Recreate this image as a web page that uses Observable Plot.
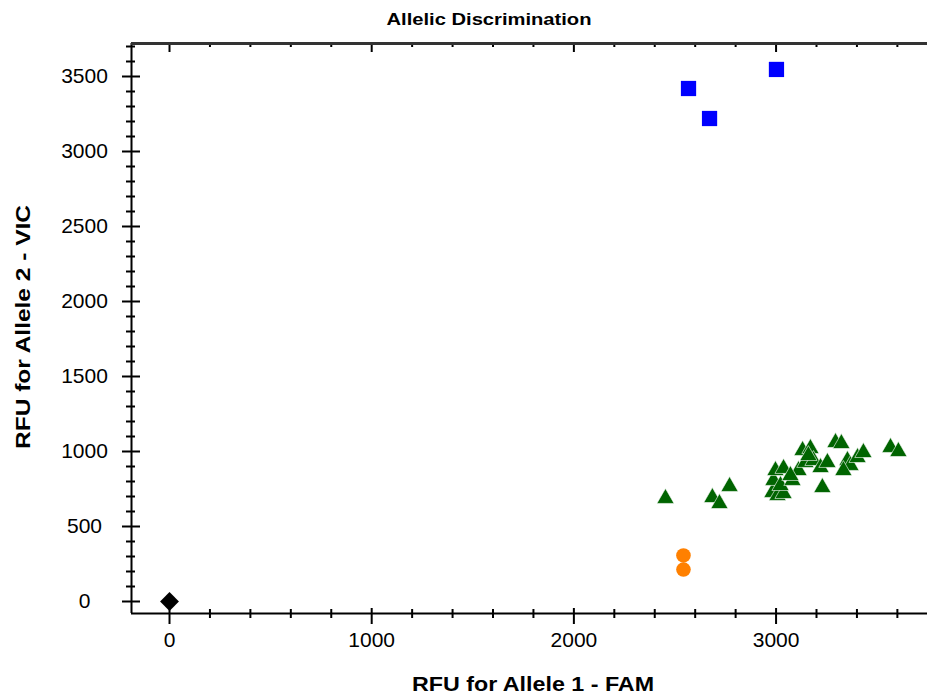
<!DOCTYPE html>
<html>
<head>
<meta charset="utf-8">
<script src="https://cdn.jsdelivr.net/npm/d3@7"></script>
<script src="https://cdn.jsdelivr.net/npm/@observablehq/plot@0.6"></script>
<style>
  html, body { margin: 0; padding: 0; background: #fff; }
  #chart { width: 927px; height: 695px; overflow: hidden; }
  svg { display: block; }
</style>
</head>
<body>
<div id="chart"></div>
<script>
// ---- Data ----
const titleText = "Allelic Discrimination";
const xLabel = "RFU for Allele 1 - FAM";
const yLabel = "RFU for Allele 2 - VIC";

// Allele 2 homozygotes (blue squares)
const blueX = [2567, 2671, 3002];
const blueY = [3420, 3220, 3547];

// Undetermined (orange circles)
const orangeX = [2542, 2542];
const orangeY = [307, 213];

// Allele 1 homozygotes (green triangles)
const greenX = [2453, 2685, 2720, 2770, 2982, 3007, 3037, 2987, 3022, 2997, 3037, 3081, 3111, 3131, 3170, 3145, 3185, 3220, 3254, 3229, 3294, 3323, 3353, 3368, 3333, 3403, 3432, 3566, 3605, 3160, 3071];
const greenY = [687, 693, 653, 767, 727, 707, 720, 807, 773, 873, 887, 807, 873, 1007, 1020, 927, 940, 893, 927, 760, 1060, 1053, 940, 907, 873, 960, 993, 1027, 1000, 973, 840];

// No template control (black diamond)
const ntcX = [0];
const ntcY = [0];

// Axis ticks
const xTicks = [0, 1000, 2000, 3000];
const yTicks = [0, 500, 1000, 1500, 2000, 2500, 3000, 3500];
const xMinorStep = 200;
const yMinorStep = 100;

// ---- Layout ----
const width = 927, height = 695;
const marginLeft = 131, marginTop = 43, marginBottom = 82, marginRight = 0;
const xDomain = [-188, 3749];
const yDomain = [-80, 3720];
const fw = width - marginLeft - marginRight;
const fh = height - marginTop - marginBottom;

const xMinor = d3.range(0, xDomain[1], xMinorStep).filter(v => !xTicks.includes(v));
const yMinor = d3.range(0, yDomain[1], yMinorStep).filter(v => !yTicks.includes(v));

const toRows = (xs, ys) => xs.map((x, i) => ({x, y: ys[i]}));
const blue = toRows(blueX, blueY);
const orange = toRows(orangeX, orangeY);
const green = toRows(greenX, greenY);
const ntc = toRows(ntcX, ntcY);

const font = "'Liberation Sans', Arial, sans-serif";

const plot = Plot.plot({
  width, height, marginLeft, marginTop, marginBottom, marginRight,
  style: {fontFamily: font, background: "#fff", overflow: "visible"},
  x: {domain: xDomain, label: null},
  y: {domain: yDomain, label: null},
  marks: [
    // tick labels
    Plot.axisX({ticks: xTicks, tickSize: 0, tickPadding: 19, fontSize: 21, label: null, tickFormat: d => String(d), fill: "#000"}),
    Plot.axisY({ticks: yTicks, tickSize: 0, tickPadding: 47, textAnchor: "middle", fontSize: 21, label: null, tickFormat: d => String(d), fill: "#000"}),
    // left axis ticks (crossing the axis line)
    Plot.tickY(yTicks, {y: d => d, insetLeft: -9, insetRight: fw - 9, stroke: "#000", strokeWidth: 2}),
    Plot.tickY(yMinor, {y: d => d, insetLeft: -5, insetRight: fw - 4, stroke: "#000", strokeWidth: 2}),
    // bottom axis ticks (crossing)
    Plot.tickX(xTicks, {x: d => d, insetTop: fh - 5, insetBottom: -11, stroke: "#000", strokeWidth: 2}),
    Plot.tickX(xMinor, {x: d => d, insetTop: fh - 4, insetBottom: -5, stroke: "#000", strokeWidth: 2}),
    // top axis ticks (inward)
    Plot.tickX(xTicks, {x: d => d, insetTop: 0, insetBottom: fh - 9, stroke: "#000", strokeWidth: 2}),
    Plot.tickX(xMinor, {x: d => d, insetTop: 0, insetBottom: fh - 4, stroke: "#000", strokeWidth: 2}),
    // frame lines (left, bottom, top)
    Plot.ruleX([xDomain[0]], {stroke: "#000", strokeWidth: 2}),
    Plot.ruleY([yDomain[0]], {stroke: "#000", strokeWidth: 2}),
    Plot.ruleY([yDomain[1]], {stroke: "#333", strokeWidth: 3}),
    // data
    Plot.dot(green, {x: "x", y: "y", symbol: "triangle", r: 6.4, fill: "#006400", stroke: "#fff", strokeWidth: 0.6}),
    Plot.dot(orange, {x: "x", y: "y", symbol: "circle", r: 7.3, fill: "#ff8000"}),
    Plot.dot(blue, {x: "x", y: "y", symbol: "square", r: 8.6, fill: "#0000ff"}),
    Plot.dot(ntc, {x: "x", y: "y", symbol: d3.symbolDiamond2, r: 8.5, fill: "#000"})
  ]
});

const svg = d3.select(plot);
svg.append("text")
  .attr("x", 489).attr("y", 25)
  .attr("text-anchor", "middle")
  .attr("font-family", font)
  .attr("font-weight", "bold")
  .attr("font-size", 17)
  .attr("textLength", 205)
  .attr("lengthAdjust", "spacingAndGlyphs")
  .text(titleText);
svg.append("text")
  .attr("x", 533).attr("y", 691)
  .attr("text-anchor", "middle")
  .attr("font-family", font)
  .attr("font-weight", "bold")
  .attr("font-size", 21)
  .attr("textLength", 242)
  .attr("lengthAdjust", "spacingAndGlyphs")
  .text(xLabel);
svg.append("text")
  .attr("transform", `translate(30, 327) rotate(-90)`)
  .attr("text-anchor", "middle")
  .attr("font-family", font)
  .attr("font-weight", "bold")
  .attr("font-size", 21)
  .attr("textLength", 244)
  .attr("lengthAdjust", "spacingAndGlyphs")
  .text(yLabel);

document.getElementById("chart").appendChild(plot);
</script>
</body>
</html>
